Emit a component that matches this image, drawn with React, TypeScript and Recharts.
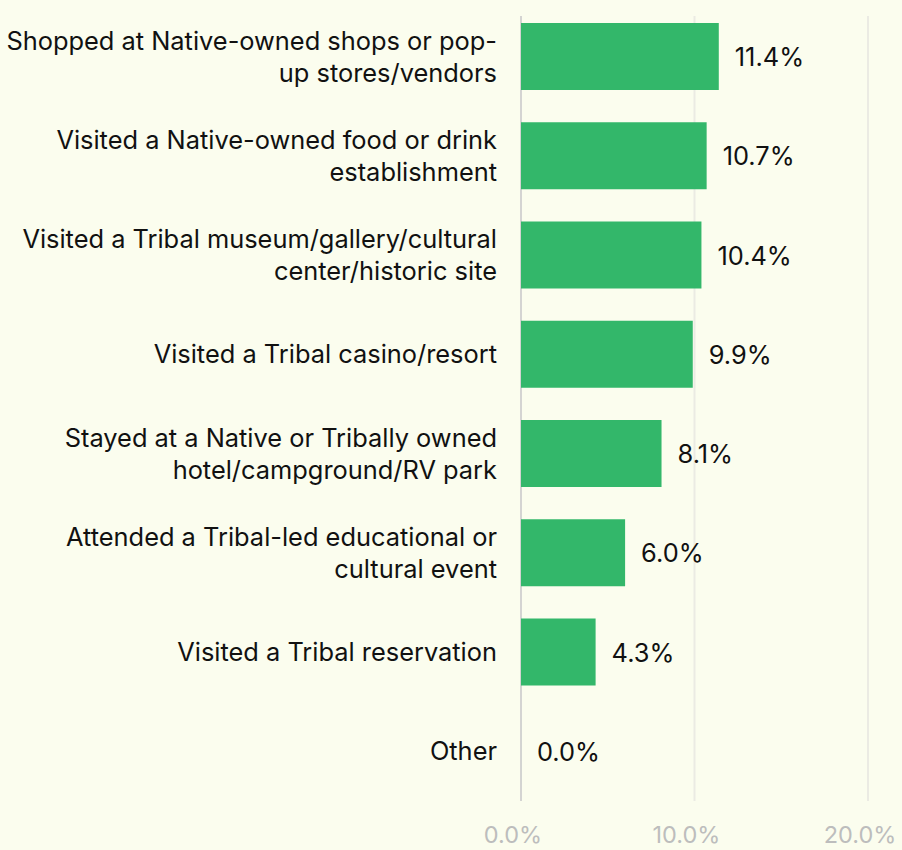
import { BarChart, Bar, XAxis, YAxis, CartesianGrid, LabelList } from "recharts";

const categories = [
  "Shopped at Native-owned shops or pop-|up stores/vendors",
  "Visited a Native-owned food or drink|establishment",
  "Visited a Tribal museum/gallery/cultural|center/historic site",
  "Visited a Tribal casino/resort",
  "Stayed at a Native or Tribally owned|hotel/campground/RV park",
  "Attended a Tribal-led educational or|cultural event",
  "Visited a Tribal reservation",
  "Other",
];

const values = [11.4, 10.7, 10.4, 9.9, 8.1, 6.0, 4.3, 0.0];

const xTicks = [0, 10, 20];

const data = categories.map((name, i) => ({ name, value: values[i] }));

const FONT = "Inter, 'Noto Sans', sans-serif";
const TEXT_SIZE = 25.4;

function CategoryTick(props: any) {
  const { x, y, payload } = props;
  const lines = String(payload.value).split("|");
  const lineH = 32;
  const startY = y - 1 - ((lines.length - 1) * lineH) / 2;
  return (
    <text
      x={x - 16}
      y={startY}
      textAnchor="end"
      dominantBaseline="central"
      fill="#111"
      fontSize={TEXT_SIZE}
      fontFamily={FONT}
    >
      {lines.map((l, i) => (
        <tspan key={i} x={x - 16} y={startY + i * lineH}>
          {l}
        </tspan>
      ))}
    </text>
  );
}

function ValueLabel(props: any) {
  const { x, y, width, height, value } = props;
  return (
    <text
      x={Number(x) + Number(width) + 16}
      y={Number(y) + Number(height) / 2}
      dominantBaseline="central"
      fill="#111"
      fontSize={TEXT_SIZE}
      fontFamily={FONT}
    >
      {`${Number(value).toFixed(1)}%`}
    </text>
  );
}

function GridLine(props: any) {
  const { x1, x2, index } = props;
  return (
    <line
      x1={x1}
      x2={x2}
      y1={16}
      y2={801}
      stroke={index === 0 ? "#d4d4d2" : "#ebebe3"}
      strokeWidth={2}
    />
  );
}

export default function App() {
  return (
    <div
      style={{
        position: "absolute",
        left: 0,
        top: 0,
        width: 902,
        height: 850,
        background: "#fbfdee",
      }}
    >
      <BarChart
        width={902}
        height={850}
        data={data}
        layout="vertical"
        margin={{ top: 7, right: 34, bottom: 0, left: 0 }}
      >
        <CartesianGrid horizontal={false} vertical={<GridLine />} />
        <XAxis
          type="number"
          domain={[0, 20]}
          ticks={xTicks}
          tickFormatter={(v: number) => `${v.toFixed(1)}%`}
          axisLine={false}
          tickLine={false}
          tick={{ fill: "#bdbdbd", fontSize: 23.5, fontFamily: FONT, dx: -8 }}
          tickMargin={19}
          height={49}
        />
        <YAxis
          type="category"
          dataKey="name"
          width={521}
          axisLine={false}
          tickLine={false}
          tick={<CategoryTick />}
          interval={0}
        />
        <Bar
          dataKey="value"
          fill="#33b76a"
          barSize={67}
          minPointSize={0.01}
          isAnimationActive={false}
        >
          <LabelList dataKey="value" content={<ValueLabel />} />
        </Bar>
      </BarChart>
    </div>
  );
}
